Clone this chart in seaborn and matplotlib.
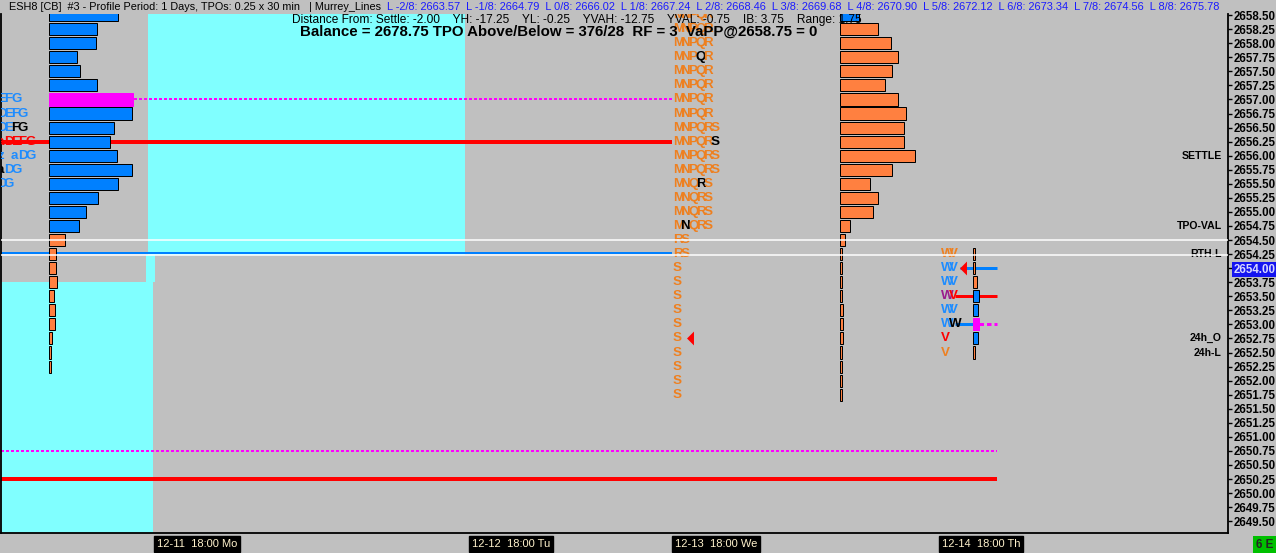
import numpy as np
import pandas as pd
import matplotlib
matplotlib.use("Agg")
import matplotlib.pyplot as plt
from matplotlib.path import Path
from matplotlib.colors import same_color
from matplotlib.transforms import blended_transform_factory
import seaborn as sns

# ---------------- data ----------------
left_prices = [2658.50, 2658.25, 2658.00, 2657.75, 2657.50, 2657.25, 2657.00, 2656.75,
               2656.50, 2656.25, 2656.00, 2655.75, 2655.50, 2655.25, 2655.00, 2654.75,
               2654.50, 2654.25, 2654.00, 2653.75, 2653.50, 2653.25, 2653.00, 2652.75,
               2652.50, 2652.25]
left_volume = [69, 48, 47, 28, 31, 48, 84, 83, 65, 61, 68, 83, 69, 49, 37, 30,
               16, 7, 7, 8, 5, 6, 6, 3, 2, 2]
left_kind = list("bbbbbbmbbbbbbbbboooooooooo")

mid_prices = left_prices + [2652.00, 2651.75]
mid_volume = [19, 38, 51, 58, 52, 45, 58, 66, 64, 64, 75, 52, 30, 38, 33, 10,
              5, 2, 2, 2, 2, 3, 3, 3, 2, 2, 2, 2]
mid_kind = list("b" + "o" * 27)

right_prices = [2654.25, 2654.00, 2653.75, 2653.50, 2653.25, 2653.00, 2652.75, 2652.50]
right_volume = [2, 2, 4, 6, 5, 6, 5, 2]
right_kind = list("ooobbmbo")

# session start (bar position) of each profile
profile_start = {"left": 49, "mid": 840, "right": 973}

# TPO letters: (price, letters, colour codes)
mid_tpo = [(2658.50, "MNPQR", "ooooo"), (2658.25, "MNPQR", "ooooo"), (2658.00, "MNPQR", "ooooo"),
           (2657.75, "MNPQR", "oookoo"), (2657.50, "MNPQR", "ooooo"), (2657.25, "MNPQR", "ooooo"),
           (2657.00, "MNPQR", "ooooo"), (2656.75, "MNPQR", "ooooo"), (2656.50, "MNPQRS", "oooooo"),
           (2656.25, "MNPQRS", "oooook"), (2656.00, "MNPQRS", "oooooo"), (2655.75, "MNPQRS", "oooooo"),
           (2655.50, "MNQRS", "oooko"), (2655.25, "MNQRS", "ooooo"), (2655.00, "MNQRS", "ooooo"),
           (2654.75, "MNQRS", "okooo"), (2654.50, "RS", "oo"), (2654.25, "RS", "oo"),
           (2654.00, "S", "o"), (2653.75, "S", "o"), (2653.50, "S", "o"), (2653.25, "S", "o"),
           (2653.00, "S", "o"), (2652.75, "S", "o"), (2652.50, "S", "o"), (2652.25, "S", "o"),
           (2652.00, "S", "o"), (2651.75, "S", "o")]
left_tpo = [(2657.00, "EFG", "bbb", -3), (2656.75, "DEFG", "bbbb", -3), (2656.50, "DEFG", "bbkk", -3),
            (2656.25, "aDEFG", "rrrrr", -3), (2656.00, "xz aDG", "bbbbbb", -10),
            (2655.75, "aDG", "kbb", -3), (2655.50, "DG", "bb", -3)]
right_tpo = [(2654.25, "WV", "oo"), (2654.00, "WV", "bb"), (2653.75, "WV", "bb"),
             (2653.50, "WV", "pr"), (2653.25, "WV", "bb"), (2653.00, "WW", "bk"),
             (2652.75, "V", "r"), (2652.50, "V", "o")]

# background value-area shading: (x from, x to, price low, price high)
cyan_zones = [(148, 465, 2654.23, 2658.52), (146, 155, 2653.75, 2654.23), (1, 153, 2649.29, 2653.75)]

# horizontal levels: (price, x from, x to, colour, width px, dotted)
levels = [(2656.25, 1, 672, "#FF0000", 4, False),
          (2657.00, 49, 672, "#FF00FF", 2, True),
          (2654.27, 1, 672, "#0080FF", 2, False),
          (2650.75, 1, 997, "#FF00FF", 2, True),
          (2650.25, 1, 997, "#FF0000", 4, False),
          (2654.00, 960, 997, "#0080FF", 3, False),
          (2653.50, 955, 997, "#FF0000", 3, False),
          (2653.00, 955, 973, "#0080FF", 3, False),
          (2653.00, 979, 997, "#FF00FF", 3, True)]
white_levels = [2654.50, 2654.235]

markers = [(689.5, 2652.75), (963, 2654.00)]

ref_labels = [(2656.00, "SETTLE"), (2654.75, "TPO-VAL"), (2654.25, "RTH-L"),
              (2652.75, "24h_O"), (2652.50, "24h-L")]

price_ticks = [2658.50, 2658.25, 2658.00, 2657.75, 2657.50, 2657.25, 2657.00, 2656.75,
               2656.50, 2656.25, 2656.00, 2655.75, 2655.50, 2655.25, 2655.00, 2654.75,
               2654.50, 2654.25, 2654.00, 2653.75, 2653.50, 2653.25, 2653.00, 2652.75,
               2652.50, 2652.25, 2652.00, 2651.75, 2651.50, 2651.25, 2651.00, 2650.75,
               2650.50, 2650.25, 2650.00, 2649.75, 2649.50]
last_price = 2654.00

time_pos = [155, 470, 673, 940]
time_labels = ["12-11  18:00 Mo", "12-12  18:00 Tu", "12-13  18:00 We", "12-14  18:00 Th"]

title1 = "ESH8 [CB]  #3 - Profile Period: 1 Days, TPOs: 0.25 x 30 min   | Murrey_Lines"
murrey = ("L -2/8: 2663.57  L -1/8: 2664.79  L 0/8: 2666.02  L 1/8: 2667.24  L 2/8: 2668.46  "
          "L 3/8: 2669.68  L 4/8: 2670.90  L 5/8: 2672.12  L 6/8: 2673.34  L 7/8: 2674.56  L 8/8: 2675.78")
title2 = ("Distance From: Settle: -2.00    YH: -17.25    YL: -0.25    YVAH: -12.75    "
          "YVAL: -0.75    IB: 3.75    Range: 1.75")
title3 = "Balance = 2678.75 TPO Above/Below = 376/28  RF = 3  VaPP@2658.75 = 0"

# ---------------- style ----------------
GRAY = "#C0C0C0"
sns.set_theme(style="white", rc={"axes.facecolor": GRAY, "figure.facecolor": GRAY})
plt.rcParams["font.family"] = ["Liberation Sans", "DejaVu Sans"]
NARROW = ["Liberation Sans Narrow", "DejaVu Sans Condensed", "Liberation Sans", "DejaVu Sans"]

bar_colors = {"b": "#0080FF", "o": "#FF8040", "m": "#FF00FF"}
letter_colors = {"o": "#EE8020", "b": "#1E8CFF", "k": "#000000", "r": "#FF0000", "p": "#9A1C8C"}
PX = 0.72  # points per pixel at dpi 100

W, H = 1276, 553
fig = plt.figure(figsize=(W / 100, H / 100), dpi=100)
ax = fig.add_axes([1 / W, 20 / H, 1227 / W, 519 / H])

# shading
for x0, x1, p0, p1 in cyan_zones:
    ax.fill_between([x0, x1], p0, p1, color="#80FFFF", lw=0, zorder=0.5)

# levels
for p, x0, x1, c, w, dotted in levels:
    ax.hlines(p, x0, x1, colors=c, lw=w * PX, linestyles=(0, (1.5, 1)) if dotted else "solid",
              zorder=1)

# volume profiles
for name, prices, vols, kinds in [("left", left_prices, left_volume, left_kind),
                                   ("mid", mid_prices, mid_volume, mid_kind),
                                   ("right", right_prices, right_volume, right_kind)]:
    df = pd.DataFrame({"price": prices, "volume": vols, "kind": kinds})
    sns.barplot(data=df, x="volume", y="price", hue="kind", palette=bar_colors, orient="y",
                native_scale=True, width=0.86, left=profile_start[name], errorbar=None,
                saturation=1, edgecolor="black", linewidth=PX, legend=False, ax=ax, zorder=3)

for patch in ax.patches:
    if same_color(patch.get_facecolor(), bar_colors["m"]):
        patch.set_edgecolor(bar_colors["m"])


def draw_letters(x0, pitch, price, letters, codes, size=9.6):
    for i, (ch, cd) in enumerate(zip(letters, codes)):
        ax.text(x0 + i * pitch, price, ch, color=letter_colors[cd], fontsize=size,
                family=NARROW, weight="bold", ha="left", va="center", zorder=4, clip_on=True)


for p, s, c in mid_tpo:
    draw_letters(673, 7.6, p, s, c)
for p, s, c, x0 in left_tpo:
    draw_letters(x0, 7, p, s, c)
for p, s, c in right_tpo:
    draw_letters(941, 8, p, s, c)

tri = Path([(-0.5, 0), (0.5, -1), (0.5, 1), (-0.5, 0)])
for x, p in markers:
    ax.plot([x], [p], marker=tri, ms=10, color="#FF0000", mec="#FF0000", mew=0, ls="none", zorder=5)

for p, lab in ref_labels:
    ax.text(1222, p, lab, ha="right", va="center", fontsize=7.6, weight="bold", color="black", zorder=4)

for p in white_levels:
    ax.axhline(p, color="white", lw=1.5 * PX, zorder=4.5)

ax.set_xlim(1, 1228)
ax.set_ylim(2649.29, 2658.52)
ax.set_xlabel("")
ax.set_ylabel("")
ax.set_xticks([])
ax.yaxis.tick_right()
ax.set_yticks(price_ticks)
tick_texts = ax.set_yticklabels([f"{v:.2f}" for v in price_ticks])
ax.tick_params(axis="y", which="both", right=True, left=False, length=3, width=1, pad=1,
               labelsize=8.3, colors="black", direction="out")
for t in tick_texts:
    t.set_fontweight("bold")
    if t.get_text() == f"{last_price:.2f}":
        t.set_color("#D8D8FF")
        t.set_bbox(dict(boxstyle="square,pad=0.12", fc="#1414F0", ec="none"))
for side in ["left", "bottom", "right"]:
    ax.spines[side].set_visible(True)
    ax.spines[side].set_color("black")
    ax.spines[side].set_linewidth(1.3)
ax.spines["top"].set_visible(False)

# time axis boxes
tr = blended_transform_factory(ax.transData, ax.transAxes)
for x, lab in zip(time_pos, time_labels):
    ax.text(x + 2, -0.012, lab, transform=tr, ha="left", va="top", fontsize=8, family=NARROW,
            color="#FFF2CC", clip_on=False,
            bbox=dict(boxstyle="square,pad=0.25", fc="black", ec="black"))

fig.text(1265 / W, 1 - 545 / H, "6 E", ha="center", va="center", fontsize=8.5, weight="bold",
         bbox=dict(boxstyle="square,pad=0.25", fc="#00C000", ec="none"))

# header texts
renderer = fig.canvas.get_renderer()


def fit(t, width_px):
    w = t.get_window_extent(renderer).width
    t.set_fontsize(t.get_fontsize() * width_px / w)


t1 = fig.text(9 / W, 1 - 7 / H, title1, ha="left", va="center", fontsize=8, color="black")
fit(t1, 372)
t1b = fig.text(387 / W, 1 - 7 / H, murrey, ha="left", va="center", fontsize=8, color="#1A1AFF")
fit(t1b, 839)
t2 = fig.text(292 / W, 1 - 19.5 / H, title2, ha="left", va="center", fontsize=8.5, color="black")
fit(t2, 570)
t3 = fig.text(300 / W, 1 - 31.5 / H, title3, ha="left", va="center", fontsize=9.5, weight="bold",
              color="black")
fit(t3, 520)

fig.savefig("out.png", dpi=100, facecolor=GRAY)
